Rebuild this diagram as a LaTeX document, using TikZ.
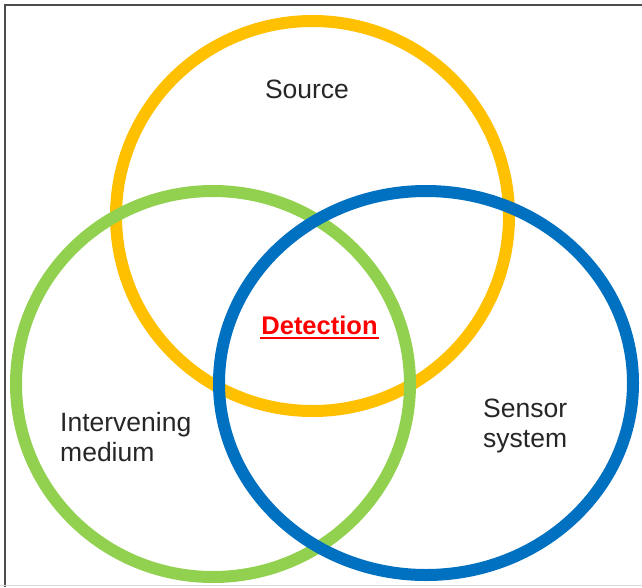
\documentclass[tikz,border=0pt]{standalone}
\usepackage{fontspec}
\setmainfont{Liberation Sans}
\usetikzlibrary{shapes.geometric}
\definecolor{corange}{HTML}{FFC000}
\definecolor{cgreen}{HTML}{92D050}
\definecolor{cblue}{HTML}{0070C0}
\definecolor{cred}{HTML}{FF0000}
\begin{document}
\begin{tikzpicture}[x=1pt,y=-1pt,
  ring/.style={draw, ellipse, line width=12pt, inner sep=0pt, outer sep=0pt},
  lbl/.style={font=\fontsize{26.5}{30}\selectfont, text=black!85, inner sep=0pt},
  lbll/.style={lbl, align=left, anchor=west}]
\useasboundingbox (0,0) rectangle (642,587);
\fill[white] (0,0) rectangle (642,587);
\draw[line width=2.5pt, black!70] (5,587) coordinate (fl) -- (5,5) coordinate (ftl) -- (642,5) coordinate (fr);
\draw[line width=1.2pt, black!15] (0,585.5) -- (642,585.5);
\node[ring, draw=corange, minimum width=393pt, minimum height=390pt] (src) at (312.5,216) {};
\node[ring, draw=cgreen, minimum width=394pt, minimum height=386pt] (med) at (213,384) {};
\node[ring, draw=cblue, minimum width=414pt, minimum height=384pt] (sen) at (426,383) {};
\node[lbl] (tsrc) at (307,89) {Source};
\node[lbll] (tmed) at (60,437) {Intervening\\medium};
\node[lbll] (tsen) at (483,426) {Sensor\\system};
\node[inner sep=0pt, text=cred, font=\fontsize{25.5}{28}\selectfont\bfseries] (det) at (319.5,325) {Detection};
\draw[cred, line width=2pt] ([xshift=-1pt,yshift=-3.5pt]det.south west) -- ([xshift=1pt,yshift=-3.5pt]det.south east);
\end{tikzpicture}
\end{document}
